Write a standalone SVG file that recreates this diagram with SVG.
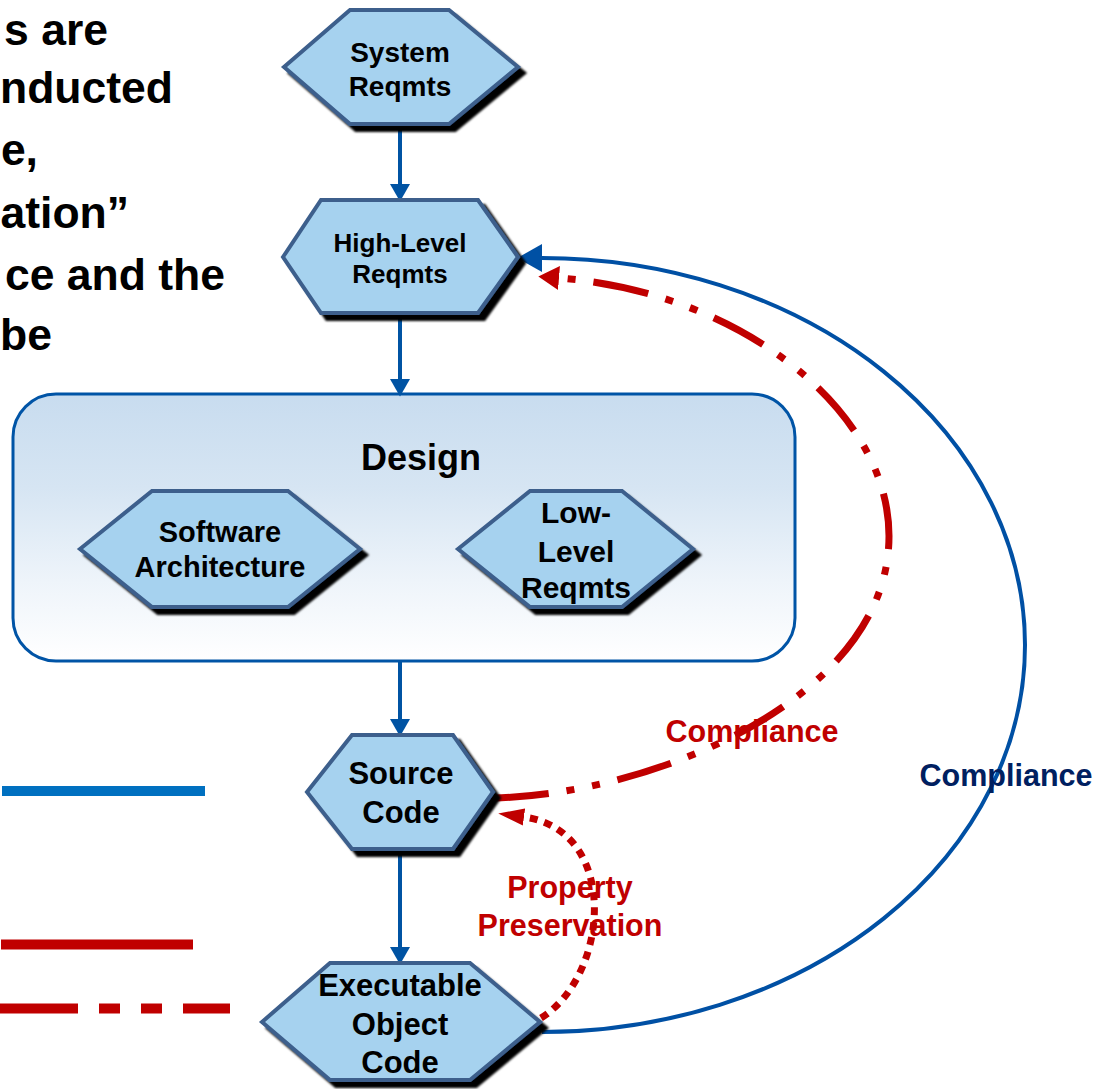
<svg xmlns="http://www.w3.org/2000/svg" width="1110" height="1089" viewBox="0 0 1110 1089">
<style>
.hex{fill:#a6d2ef;stroke:#3c5f8c;stroke-width:4;stroke-linejoin:miter}
.nt{font-family:"Liberation Sans",Arial,sans-serif;font-weight:bold;fill:#000;text-anchor:middle}
.big{font-family:"Liberation Sans",Arial,sans-serif;font-weight:bold;fill:#000;text-anchor:end;font-size:44.5px}
.lbl{font-family:"Liberation Sans",Arial,sans-serif;font-weight:bold;text-anchor:middle;font-size:30.5px}
.flow{stroke:#0053a3;stroke-width:4;fill:none}
</style>
<defs>
<linearGradient id="dg" x1="0" y1="0" x2="0" y2="1">
<stop offset="0" stop-color="#c8dcef"/>
<stop offset="0.35" stop-color="#d6e5f3"/>
<stop offset="0.7" stop-color="#eef4fa"/>
<stop offset="1" stop-color="#ffffff"/>
</linearGradient>
<filter id="sh" x="-10%" y="-10%" width="125%" height="130%">
<feOffset in="SourceAlpha" dx="6" dy="6" result="o"/>
<feGaussianBlur in="o" stdDeviation="1" result="b"/>
<feMerge><feMergeNode in="b"/><feMergeNode in="SourceGraphic"/></feMerge>
</filter>
<marker id="ab" markerUnits="userSpaceOnUse" markerWidth="20" markerHeight="20" viewBox="0 0 16 16" refX="0" refY="8" orient="auto">
<path d="M0,0 L14,8 L0,16 Z" fill="#0053a3"/>
</marker>
<marker id="abig" markerUnits="userSpaceOnUse" markerWidth="26" markerHeight="28" viewBox="0 0 24 26" refX="0" refY="13" orient="auto">
<path d="M0,0 L23,13 L0,26 Z" fill="#0050a4"/>
</marker>
<marker id="ar" markerUnits="userSpaceOnUse" markerWidth="22" markerHeight="24" viewBox="0 0 20 22" refX="0" refY="11" orient="auto">
<path d="M0,0 L19,11 L0,22 Z" fill="#c00000"/>
</marker>
<marker id="ar2" markerUnits="userSpaceOnUse" markerWidth="26" markerHeight="18" viewBox="0 0 24 16" refX="0" refY="8" orient="auto">
<path d="M0,0 L24,8 L0,16 Z" fill="#c00000"/>
</marker>
</defs>
<rect width="1110" height="1089" fill="#ffffff"/>

<g id="intro-text">
<text class="big" x="108" y="45">s are</text>
<text class="big" x="173" y="103">nducted</text>
<text class="big" x="38" y="165">e,</text>
<text class="big" x="129" y="228">ation”</text>
<text class="big" x="225" y="290">ce and the</text>
<text class="big" x="52" y="350">be</text>
</g>

<g id="legend">
<line x1="2" y1="791" x2="205" y2="791" stroke="#0070c0" stroke-width="10"/>
<line x1="1" y1="944.5" x2="193" y2="944.5" stroke="#c00000" stroke-width="10"/>
<line x1="0" y1="1008.5" x2="230" y2="1008.5" stroke="#c00000" stroke-width="10" stroke-dasharray="78 21 21 21 21 21 60"/>
</g>

<g id="design">
<rect x="13" y="394" width="782" height="267" rx="43" ry="43" fill="url(#dg)" stroke="#0054a6" stroke-width="3"/>
<text class="nt" x="421" y="470" font-size="36">Design</text>
</g>

<g id="connectors">
<line class="flow" x1="400" y1="128" x2="400" y2="184" marker-end="url(#ab)"/>
<line class="flow" x1="400" y1="318" x2="400" y2="379" marker-end="url(#ab)"/>
<line class="flow" x1="400" y1="662" x2="400" y2="719" marker-end="url(#ab)"/>
<line class="flow" x1="400" y1="853" x2="400" y2="947" marker-end="url(#ab)"/>
<path d="M 542 1032 A 483 387 0 0 0 542 258" fill="none" stroke="#0050a4" stroke-width="4" marker-end="url(#abig)"/>
<path d="M 493 798 C 650 795, 889 700, 889 536 C 889 410, 740 292, 559 278" fill="none" stroke="#c00000" stroke-width="7" stroke-dasharray="56 18 8 18 8 18" marker-end="url(#ar)"/>
<path d="M 541 1018 C 610 975, 620 830, 524 817" fill="none" stroke="#c00000" stroke-width="7" stroke-dasharray="8 7" marker-end="url(#ar2)"/>
</g>

<g id="system-reqmts">
<polygon class="hex" filter="url(#sh)" points="284,67 350,10 449,10 518,67 449,124 350,124"/>
<text class="nt" x="400" y="62" font-size="28">System</text>
<text class="nt" x="400" y="96" font-size="28">Reqmts</text>
</g>

<g id="high-level-reqmts">
<polygon class="hex" filter="url(#sh)" points="283,257 321,200 478,200 518,257 478,313 321,313"/>
<text class="nt" x="400" y="252" font-size="26">High-Level</text>
<text class="nt" x="400" y="283" font-size="26">Reqmts</text>
</g>

<g id="software-architecture">
<polygon class="hex" filter="url(#sh)" points="80,549 152,491 288,491 360,549 288,607 152,607"/>
<text class="nt" x="220" y="542" font-size="29">Software</text>
<text class="nt" x="220" y="577" font-size="29">Architecture</text>
</g>

<g id="low-level-reqmts">
<polygon class="hex" filter="url(#sh)" points="458,549 530,491 622,491 693,549 622,607 530,607"/>
<text class="nt" x="576" y="523" font-size="30">Low-</text>
<text class="nt" x="576" y="562" font-size="30">Level</text>
<text class="nt" x="576" y="598" font-size="30">Reqmts</text>
</g>

<g id="source-code">
<polygon class="hex" filter="url(#sh)" points="307,792 352,735 453,735 493,792 453,849 352,849"/>
<text class="nt" x="401" y="784" font-size="31">Source</text>
<text class="nt" x="401" y="823" font-size="31">Code</text>
</g>

<g id="executable-object-code">
<polygon class="hex" filter="url(#sh)" points="262,1022 330,963 470,963 540,1022 470,1080 330,1080"/>
<text class="nt" x="400" y="996" font-size="31">Executable</text>
<text class="nt" x="400" y="1035" font-size="31">Object</text>
<text class="nt" x="400" y="1073" font-size="31">Code</text>
</g>

<g id="labels">
<text class="lbl" x="752" y="742" fill="#c00000">Compliance</text>
<text class="lbl" x="1006" y="786" fill="#002060">Compliance</text>
<text class="lbl" x="570" y="898" fill="#c00000" font-size="31">Property</text>
<text class="lbl" x="570" y="936" fill="#c00000" font-size="31">Preservation</text>
</g>
</svg>
